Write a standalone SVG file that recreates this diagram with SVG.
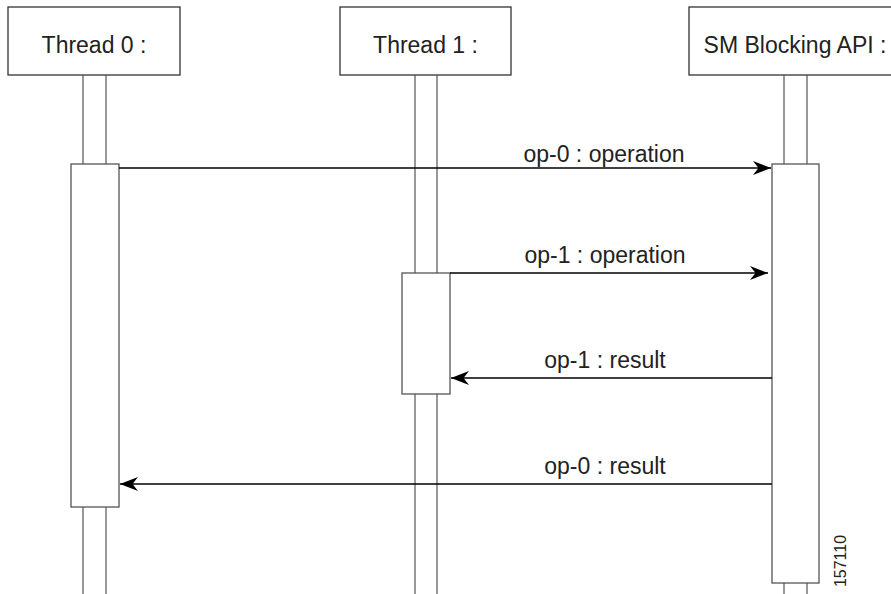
<svg xmlns="http://www.w3.org/2000/svg" width="891" height="594" viewBox="0 0 891 594">
  <defs>
    <marker id="head" viewBox="0 0 19 15" markerWidth="19" markerHeight="15" refX="18" refY="7.5" orient="auto" markerUnits="userSpaceOnUse">
      <path d="M18,7.5 L0,0.5 L5.5,7.5 L0,14.5 Z" fill="#000"/>
    </marker>
    <style>
      .box { fill: #fff; stroke: #333; stroke-width: 1.3; }
      .act { fill: #fff; stroke: #555; stroke-width: 1.3; }
      .life { stroke: #555; stroke-width: 1.2; fill: none; }
      .msg { stroke: #000; stroke-width: 1.5; fill: none; marker-end: url(#head); }
      .lbl { font-family: "Liberation Sans", Arial, Helvetica, sans-serif; font-size: 23px; fill: #222; text-anchor: middle; }
      .tag { font-family: "Liberation Sans", Arial, Helvetica, sans-serif; font-size: 16px; fill: #222; text-anchor: middle; }
    </style>
  </defs>
  <rect width="891" height="594" fill="#fff"/>

  <!-- lifeline of Thread 0 -->
  <g id="thread0">
    <rect class="box" x="8" y="7" width="172" height="68"/>
    <text class="lbl" x="94" y="53">Thread 0 :</text>
    <path class="life" d="M83,75 V164 M106,75 V164 M83,507 V594 M106,507 V594"/>
    <rect class="act" x="71" y="164" width="48" height="343"/>
  </g>

  <!-- lifeline of Thread 1 -->
  <g id="thread1">
    <rect class="box" x="340" y="7" width="171" height="68"/>
    <text class="lbl" x="425.5" y="53">Thread 1 :</text>
    <path class="life" d="M415,75 V273 M437,75 V273 M415,394 V594 M437,394 V594"/>
    <rect class="act" x="402" y="273" width="48" height="121"/>
  </g>

  <!-- lifeline of the SM Blocking API -->
  <g id="smapi">
    <rect class="box" x="689" y="7" width="214" height="68"/>
    <text class="lbl" x="795" y="53">SM Blocking API :</text>
    <path class="life" d="M784,75 V164 M807,75 V164 M784,583 V594 M807,583 V594"/>
    <rect class="act" x="772" y="164" width="47" height="419"/>
  </g>

  <!-- messages -->
  <g id="messages">
    <line class="msg" x1="119" y1="168" x2="771" y2="168"/>
    <text class="lbl" x="604" y="162">op-0 : operation</text>
    <line class="msg" x1="450" y1="273" x2="768" y2="273"/>
    <text class="lbl" x="605" y="263">op-1 : operation</text>
    <line class="msg" x1="772" y1="378" x2="451" y2="378"/>
    <text class="lbl" x="605" y="368">op-1 : result</text>
    <line class="msg" x1="772" y1="484" x2="120" y2="484"/>
    <text class="lbl" x="605" y="474">op-0 : result</text>
  </g>

  <text class="tag" transform="translate(846,561) rotate(-90)">157110</text>
</svg>
